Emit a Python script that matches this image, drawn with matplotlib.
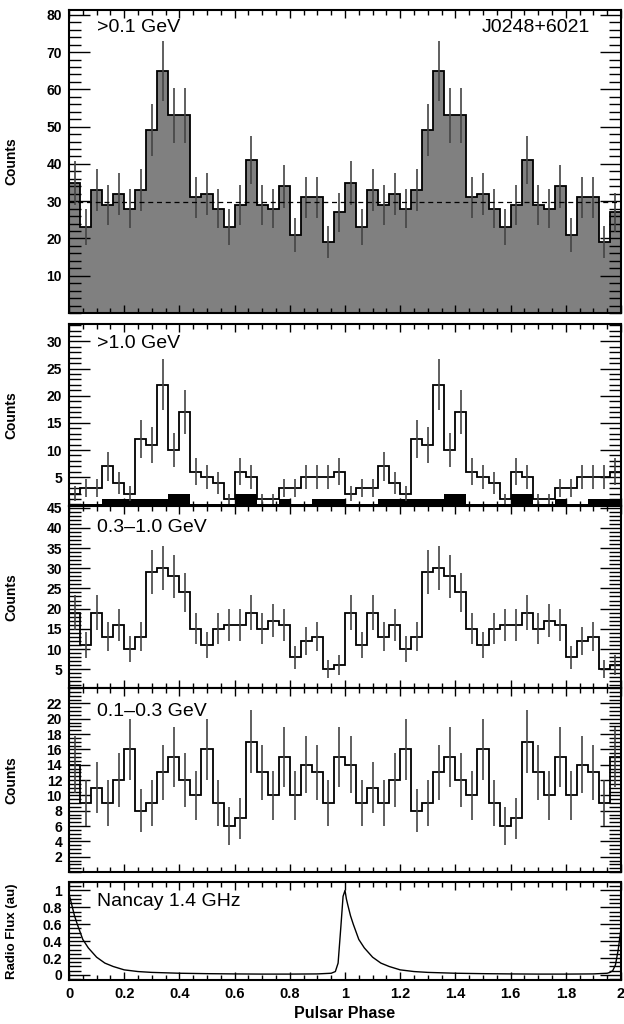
import numpy as np
import matplotlib
matplotlib.use('Agg')
import matplotlib.pyplot as plt
from matplotlib.ticker import MultipleLocator, FormatStrFormatter

plt.rcParams['font.family'] = ['Liberation Sans', 'DejaVu Sans']

# counts per phase bin, one rotation (25 bins), shown twice
counts_all = [35, 23, 33, 29, 32, 28, 33, 49, 65, 53, 53, 31, 32, 28, 23, 29, 41, 29, 28, 34, 21, 31, 31, 19, 27]
counts_gt1 = [2, 3, 3, 7, 4, 2, 12, 11, 22, 10, 17, 6, 5, 4, 1, 6, 5, 1, 1, 3, 3, 5, 5, 5, 6]
bars_gt1 = [0, 0, 0, 1, 1, 1, 1, 1, 1, 2, 2, 0, 0, 0, 0, 2, 2, 0, 0, 1, 0, 0, 1, 1, 1]
counts_mid = [19, 11, 19, 13, 16, 10, 13, 29, 30, 28, 24, 15, 11, 15, 16, 16, 19, 15, 17, 16, 8, 12, 13, 5, 6]
counts_low = [14, 9, 11, 9, 12, 16, 8, 9, 13, 15, 12, 10, 16, 9, 6, 7, 17, 13, 10, 15, 10, 14, 13, 9, 15]
background = 29.7

# radio profile (Nancay 1.4 GHz)
radio_phase = [0.0, 0.01, 0.02, 0.03, 0.05, 0.07, 0.1, 0.13, 0.16, 0.2, 0.25, 0.3, 0.4, 0.5, 0.6,
               0.7, 0.8, 0.9, 0.95, 0.965, 0.975, 0.985, 0.993, 1.0, 1.005, 1.01, 1.02, 1.03, 1.05,
               1.07, 1.1, 1.13, 1.16, 1.2, 1.25, 1.3, 1.4, 1.5, 1.6, 1.7, 1.8, 1.9, 1.95, 1.96,
               1.97, 1.98, 1.99, 2.0]
radio_flux = [0.96, 0.83, 0.70, 0.60, 0.42, 0.32, 0.21, 0.14, 0.10, 0.06, 0.04, 0.03, 0.02, 0.015, 0.012,
              0.01, 0.01, 0.012, 0.02, 0.04, 0.14, 0.57, 0.93, 1.0, 0.9, 0.83, 0.70, 0.60, 0.42,
              0.32, 0.21, 0.14, 0.10, 0.06, 0.04, 0.03, 0.02, 0.015, 0.012, 0.01, 0.01, 0.012, 0.02, 0.03,
              0.05, 0.12, 0.3, 0.55]

edges = np.linspace(0, 2, 51)
centers = 0.5 * (edges[:-1] + edges[1:])

W, H = 624, 1024
fig = plt.figure(figsize=(W / 100, H / 100), dpi=100)


def make_ax(top, bottom):
    return fig.add_axes([69 / W, (H - bottom) / H, (621 - 69) / W, (bottom - top) / H])


def style(ax, minor, ylim, yticks, show_x=False):
    ax.set_xlim(0, 2)
    ax.set_ylim(*ylim)
    ax.set_yticks(yticks)
    ax.yaxis.set_minor_locator(MultipleLocator(minor))
    ax.xaxis.set_major_locator(MultipleLocator(0.2))
    ax.xaxis.set_minor_locator(MultipleLocator(0.05))
    ax.tick_params(axis='both', which='both', direction='in', top=True, right=True, width=1.0)
    ax.tick_params(axis='y', which='major', length=15, labelsize=10, pad=5)
    ax.tick_params(axis='y', which='minor', length=8.5)
    ax.tick_params(axis='x', which='major', length=6, labelsize=10.5, pad=5)
    ax.tick_params(axis='x', which='minor', length=3.5)
    ax.yaxis.set_major_formatter(FormatStrFormatter('%g'))
    for lab in ax.get_yticklabels():
        lab.set_fontweight('bold')
    if show_x:
        ax.xaxis.set_major_formatter(FormatStrFormatter('%g'))
        for lab in ax.get_xticklabels():
            lab.set_fontweight('bold')
    else:
        ax.set_xticklabels([])
    for s in ax.spines.values():
        s.set_linewidth(1.5)


def histo(ax, vals, fill=None):
    v = np.tile(vals, 2)
    if fill is not None:
        ax.stairs(v, edges, fill=True, color=fill, baseline=0)
    ax.stairs(v, edges, color='black', lw=1.3, baseline=None)
    ax.errorbar(centers, v, yerr=np.sqrt(v), fmt='none', ecolor='#444444', elinewidth=1.2, capsize=0)


def ylab(ax, txt):
    ax.set_ylabel(txt, fontsize=10, fontweight='bold')
    ax.yaxis.set_label_coords(-0.092, 0.5)


def tag(txt, ypix, x=97, ha='left'):
    fig.text(x / W, (H - ypix) / H, txt, fontsize=14, ha=ha, va='center')


# >0.1 GeV
ax1 = make_ax(10, 313)
histo(ax1, counts_all, fill='#808080')
ax1.axhline(background, color='black', ls='--', lw=0.9, dashes=(4, 3))
style(ax1, 2, (0, 81.3), range(10, 81, 10))
ylab(ax1, 'Counts')
tag('>0.1 GeV', 28)
tag('J0248+6021', 28, x=590, ha='right')

# >1.0 GeV
ax2 = make_ax(324, 506)
ax2.stairs(np.tile(bars_gt1, 2), edges, fill=True, color='black', baseline=-0.3)
histo(ax2, counts_gt1)
style(ax2, 1, (-0.3, 33.2), range(5, 31, 5))
ylab(ax2, 'Counts')
tag('>1.0 GeV', 343)

# 0.3-1.0 GeV
ax3 = make_ax(506, 688)
histo(ax3, counts_mid)
style(ax3, 1, (0.35, 45.4), range(5, 46, 5))
ylab(ax3, 'Counts')
tag('0.3\u20131.0 GeV', 527)

# 0.1-0.3 GeV
ax4 = make_ax(688, 872)
histo(ax4, counts_low)
style(ax4, 0.5, (0, 24), range(2, 23, 2))
ylab(ax4, 'Counts')
tag('0.1\u20130.3 GeV', 711)

# radio
ax5 = make_ax(882, 980)
ax5.plot(radio_phase, radio_flux, color='black', lw=1.0)
style(ax5, 0.05, (-0.06, 1.1), [0, 0.2, 0.4, 0.6, 0.8, 1], show_x=True)
ylab(ax5, 'Radio Flux (au)')
ax5.yaxis.label.set_fontsize(9.5)
ax5.set_xlabel('Pulsar Phase', fontsize=11.5, fontweight='bold', labelpad=4)
tag('Nancay 1.4 GHz', 901)

fig.savefig('out.png', dpi=100)
